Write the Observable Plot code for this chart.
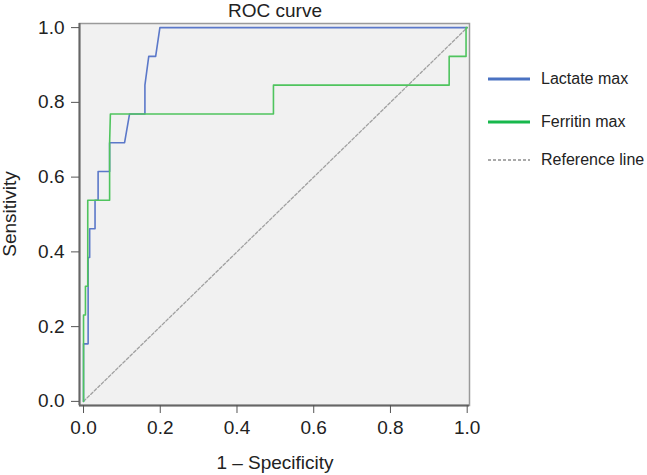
<!DOCTYPE html>
<html>
<head>
<meta charset="utf-8">
<script src="https://cdn.jsdelivr.net/npm/d3@7"></script>
<script src="https://cdn.jsdelivr.net/npm/@observablehq/plot@0.6"></script>
<style>
  html, body { margin: 0; padding: 0; background: #fff; }
  #wrap { position: relative; width: 647px; height: 475px; font-family: "Liberation Sans", Arial, sans-serif; color: #222; }
  #title { position: absolute; left: 79px; width: 392px; top: 0px; text-align: center; font-size: 19px; line-height: 22px; }
  #xlabel { position: absolute; left: 79px; width: 392px; top: 452px; text-align: center; font-size: 19px; line-height: 22px; }
  #ylabel { position: absolute; left: 10px; top: 214px; font-size: 19px; line-height: 22px; white-space: nowrap; transform: translate(-50%, -50%) rotate(-90deg); }
  #legend { position: absolute; left: 488px; top: 0; }
  .row { position: absolute; left: 0; height: 20px; display: flex; align-items: center; white-space: nowrap; font-size: 16px; }
  .row svg { margin-right: 11px; }
</style>
</head>
<body>
<div id="wrap">
  <div id="chart"></div>
  <div id="title"></div>
  <div id="xlabel"></div>
  <div id="ylabel"></div>
  <div id="legend"></div>
</div>
<script>
// ---- data ----
const title = "ROC curve";
const xLabel = "1 – Specificity";
const yLabel = "Sensitivity";
const seriesNames = ["Lactate max", "Ferritin max", "Reference line"];

const lactateFpr = [0, 0, 0.003, 0.003, 0.012, 0.012, 0.016, 0.016, 0.030, 0.030, 0.038, 0.038, 0.068, 0.068, 0.107, 0.120, 0.160, 0.160, 0.170, 0.188, 0.199, 1.0];
const lactateTpr = [0, 0.154, 0.154, 0.154, 0.154, 0.385, 0.385, 0.462, 0.462, 0.538, 0.538, 0.615, 0.615, 0.692, 0.692, 0.769, 0.769, 0.846, 0.923, 0.923, 1.0, 1.0];

const ferritinFpr = [0, 0, 0.005, 0.005, 0.011, 0.011, 0.068, 0.068, 0.070, 0.495, 0.495, 0.953, 0.953, 0.997, 0.997, 1.0];
const ferritinTpr = [0, 0.231, 0.231, 0.308, 0.308, 0.538, 0.538, 0.692, 0.769, 0.769, 0.846, 0.846, 0.923, 0.923, 1.0, 1.0];

const refFpr = [0, 1];
const refTpr = [0, 1];

const xTicks = [0, 0.2, 0.4, 0.6, 0.8, 1.0];
const yTicks = [0, 0.2, 0.4, 0.6, 0.8, 1.0];

// ---- styles ----
const colors = ["#5b78c9", "#4fc45e", "#a0a0a0"];
const legendColors = ["#4a72c2", "#17b84c", "#555555"];

function pts(xs, ys) { return xs.map((x, i) => ({x, y: ys[i]})); }

const xDomain = [-0.0105, 1.006];
const yDomain = [-0.011, 1.011];

const chart = Plot.plot({
  width: 647,
  height: 475,
  marginLeft: 79,
  marginRight: 178,
  marginTop: 23,
  marginBottom: 70,
  style: { fontFamily: "'Liberation Sans', Arial, sans-serif", fontSize: "19px", color: "#222", background: "transparent" },
  x: { domain: xDomain },
  y: { domain: yDomain },
  marks: [
    Plot.frame({ fill: "#f1f1f1", stroke: "#9a9a9a", strokeWidth: 1.5 }),
    Plot.ruleX([xDomain[0]], { stroke: "#666", strokeWidth: 2 }),
    Plot.ruleY([yDomain[0]], { stroke: "#666", strokeWidth: 2 }),
    Plot.axisX({ ticks: xTicks, tickFormat: d3.format(".1f"), tickSize: 8, tickPadding: 7, stroke: "#555", label: null, fill: "#222" }),
    Plot.axisY({ ticks: yTicks, tickFormat: d3.format(".1f"), tickSize: 8, tickPadding: 7, stroke: "#555", label: null, fill: "#222" }),
    Plot.line(pts(refFpr, refTpr), { x: "x", y: "y", stroke: colors[2], strokeWidth: 1.3, strokeDasharray: "3,2" }),
    Plot.line(pts(lactateFpr, lactateTpr), { x: "x", y: "y", stroke: colors[0], strokeWidth: 1.6 }),
    Plot.line(pts(ferritinFpr, ferritinTpr), { x: "x", y: "y", stroke: colors[1], strokeWidth: 1.6 })
  ]
});
document.getElementById("chart").appendChild(chart);

document.getElementById("title").textContent = title;
document.getElementById("xlabel").textContent = xLabel;
document.getElementById("ylabel").textContent = yLabel;

const legend = document.getElementById("legend");
const rowTops = [69, 112, 150];
seriesNames.forEach((name, i) => {
  const row = document.createElement("div");
  row.className = "row";
  row.style.top = rowTops[i] + "px";
  const dash = i === 2 ? 'stroke-dasharray="3,2"' : "";
  const w = i === 2 ? 1.2 : 3;
  row.innerHTML = `<svg width="42" height="10"><line x1="0" y1="5" x2="42" y2="5" stroke="${legendColors[i]}" stroke-width="${w}" ${dash}/></svg><span>${name}</span>`;
  legend.appendChild(row);
});
</script>
</body>
</html>
